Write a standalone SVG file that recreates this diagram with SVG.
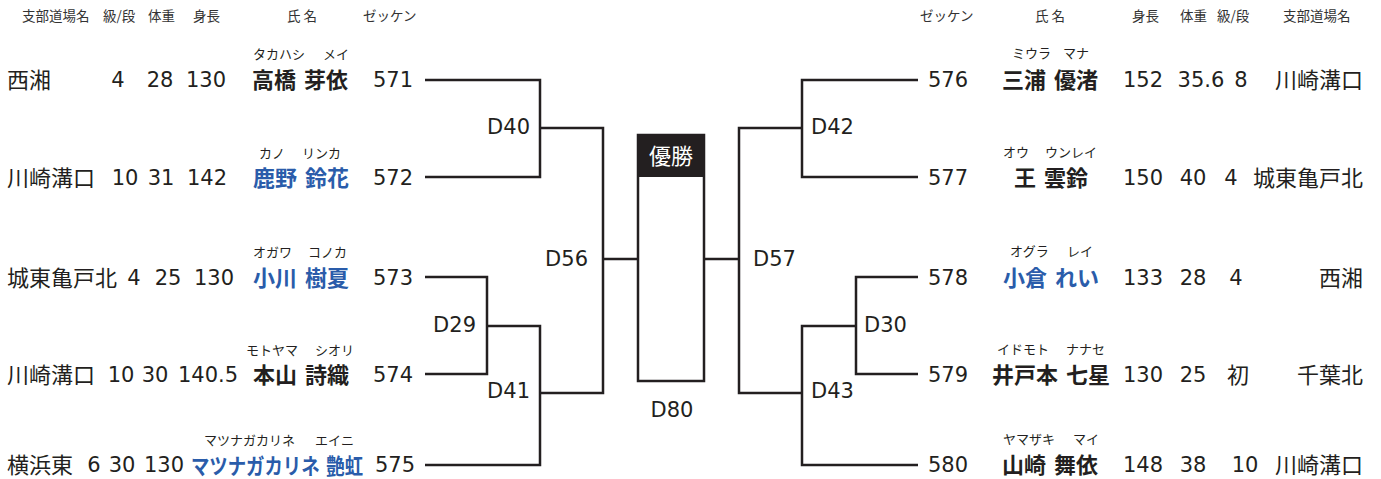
<svg xmlns="http://www.w3.org/2000/svg" width="1381" height="479" viewBox="0 0 1381 479">
<style>
.hd{font-family:"Noto Sans CJK JP",sans-serif;font-size:13.5px;fill:#333333}
.cl{font-family:"Noto Sans CJK JP",sans-serif;font-size:22px;fill:#231f20}
.num{font-family:"DejaVu Sans",sans-serif;font-size:21px;fill:#231f20;text-anchor:middle}
.nm{font-family:"Noto Sans CJK JP",sans-serif;font-size:22px;font-weight:bold;fill:#231f20;text-anchor:middle;word-spacing:3px}
.st{text-anchor:start}
.bl{fill:#2a5caa}
.fu{font-family:"Noto Sans CJK JP",sans-serif;font-size:13px;fill:#231f20}
.lb{font-family:"DejaVu Sans",sans-serif;font-size:21px;fill:#231f20}
.ln{fill:none;stroke:#231f20;stroke-width:2.5;stroke-linejoin:miter}
</style>
<g id="headers">
<text class="hd" x="22" y="21">支部道場名</text>
<text class="hd" x="103" y="21">級/段</text>
<text class="hd" x="148" y="21">体重</text>
<text class="hd" x="193" y="21">身長</text>
<text class="hd" x="287" y="21">氏 名</text>
<text class="hd" x="363" y="21">ゼッケン</text>
<text class="hd" x="920" y="21">ゼッケン</text>
<text class="hd" x="1035" y="21">氏 名</text>
<text class="hd" x="1132" y="21">身長</text>
<text class="hd" x="1180" y="21">体重</text>
<text class="hd" x="1217" y="21">級/段</text>
<text class="hd" x="1283" y="21">支部道場名</text>
</g>
<g id="connectors">
<path class="ln" d="M425,80 H540 V177 H425"/>
<path class="ln" d="M540,128 H603 V393 H540"/>
<path class="ln" d="M603,259 H638"/>
<path class="ln" d="M425,277 H487 V374 H425"/>
<path class="ln" d="M487,326 H540 V465 H425"/>
<path class="ln" d="M704,259 H739"/>
<path class="ln" d="M802,128 H739 V393 H802"/>
<path class="ln" d="M918,80 H802 V177 H918"/>
<path class="ln" d="M918,277 H856 V374 H918"/>
<path class="ln" d="M856,326 H802 V465 H918"/>
</g>
<g id="final">
<rect x="638" y="135" width="66" height="246" fill="#ffffff" stroke="#231f20" stroke-width="2.5"/>
<rect x="638" y="135" width="66" height="42" fill="#231f20"/>
<text x="671" y="164" font-family="Noto Sans CJK JP, sans-serif" font-size="22" fill="#ffffff" text-anchor="middle">優勝</text>
<text class="lb" x="672" y="417" text-anchor="middle">D80</text>
</g>
<g id="match-labels">
<text class="lb" x="530" y="134" text-anchor="end">D40</text>
<text class="lb" x="588" y="266" text-anchor="end">D56</text>
<text class="lb" x="476" y="332" text-anchor="end">D29</text>
<text class="lb" x="530" y="398" text-anchor="end">D41</text>
<text class="lb" x="811" y="134">D42</text>
<text class="lb" x="753" y="266">D57</text>
<text class="lb" x="864" y="332">D30</text>
<text class="lb" x="811" y="398">D43</text>
</g>
<g id="p571">
<text class="cl" x="7" y="88">西湘</text>
<text class="num" x="118" y="87">4</text>
<text class="num" x="160" y="87">28</text>
<text class="num" x="206" y="87">130</text>
<text class="fu" y="59"><tspan x="253">タカハシ</tspan><tspan x="323">メイ</tspan></text>
<text class="nm" x="300" y="88">高橋 芽依</text>
<text class="num" x="393" y="87">571</text>
</g>
<g id="p572">
<text class="cl" x="7" y="186">川崎溝口</text>
<text class="num" x="125" y="185">10</text>
<text class="num" x="161" y="185">31</text>
<text class="num" x="207" y="185">142</text>
<text class="fu" y="158"><tspan x="259">カノ</tspan><tspan x="302">リンカ</tspan></text>
<text class="nm bl" x="301" y="186">鹿野 鈴花</text>
<text class="num" x="393" y="185">572</text>
</g>
<g id="p573">
<text class="cl" x="7" y="286">城東亀戸北</text>
<text class="num" x="134" y="285">4</text>
<text class="num" x="168" y="285">25</text>
<text class="num" x="214" y="285">130</text>
<text class="fu" y="257"><tspan x="253">オガワ</tspan><tspan x="308">コノカ</tspan></text>
<text class="nm bl" x="301" y="286">小川 樹夏</text>
<text class="num" x="393" y="285">573</text>
</g>
<g id="p574">
<text class="cl" x="7" y="383">川崎溝口</text>
<text class="num" x="121" y="382">10</text>
<text class="num" x="155" y="382">30</text>
<text class="num" x="208" y="382">140.5</text>
<text class="fu" y="355"><tspan x="246">モトヤマ</tspan><tspan x="315">シオリ</tspan></text>
<text class="nm" x="301" y="383">本山 詩織</text>
<text class="num" x="393" y="382">574</text>
</g>
<g id="p575">
<text class="cl" x="7" y="473">横浜東</text>
<text class="num" x="94" y="472">6</text>
<text class="num" x="122" y="472">30</text>
<text class="num" x="164" y="472">130</text>
<text class="fu" y="445"><tspan x="204">マツナガカリネ</tspan><tspan x="315">エイニ</tspan></text>
<text class="nm bl st" x="191" y="474" textLength="172" lengthAdjust="spacingAndGlyphs">マツナガカリネ 艶虹</text>
<text class="num" x="395" y="472">575</text>
</g>
<g id="p576">
<text class="num" x="948" y="87">576</text>
<text class="fu" y="58"><tspan x="1012">ミウラ</tspan><tspan x="1063">マナ</tspan></text>
<text class="nm" x="1050" y="88">三浦 優渚</text>
<text class="num" x="1143" y="87">152</text>
<text class="num" x="1201" y="87">35.6</text>
<text class="num" x="1241" y="87">8</text>
<text class="cl" x="1363" y="88" text-anchor="end">川崎溝口</text>
</g>
<g id="p577">
<text class="num" x="948" y="185">577</text>
<text class="fu" y="157"><tspan x="1003">オウ</tspan><tspan x="1045">ウンレイ</tspan></text>
<text class="nm" x="1051" y="186">王 雲鈴</text>
<text class="num" x="1143" y="185">150</text>
<text class="num" x="1193" y="185">40</text>
<text class="num" x="1231" y="185">4</text>
<text class="cl" x="1363" y="186" text-anchor="end">城東亀戸北</text>
</g>
<g id="p578">
<text class="num" x="948" y="285">578</text>
<text class="fu" y="256"><tspan x="1010">オグラ</tspan><tspan x="1067">レイ</tspan></text>
<text class="nm bl" x="1051" y="286">小倉 れい</text>
<text class="num" x="1143" y="285">133</text>
<text class="num" x="1193" y="285">28</text>
<text class="num" x="1236" y="285">4</text>
<text class="cl" x="1363" y="286" text-anchor="end">西湘</text>
</g>
<g id="p579">
<text class="num" x="948" y="382">579</text>
<text class="fu" y="354"><tspan x="997">イドモト</tspan><tspan x="1066">ナナセ</tspan></text>
<text class="nm" x="1051" y="383">井戸本 七星</text>
<text class="num" x="1143" y="382">130</text>
<text class="num" x="1193" y="382">25</text>
<text class="cl" x="1238" y="383" text-anchor="middle">初</text>
<text class="cl" x="1363" y="383" text-anchor="end">千葉北</text>
</g>
<g id="p580">
<text class="num" x="948" y="472">580</text>
<text class="fu" y="444"><tspan x="1003">ヤマザキ</tspan><tspan x="1073">マイ</tspan></text>
<text class="nm" x="1050" y="473">山崎 舞依</text>
<text class="num" x="1143" y="472">148</text>
<text class="num" x="1193" y="472">38</text>
<text class="num" x="1245" y="472">10</text>
<text class="cl" x="1363" y="473" text-anchor="end">川崎溝口</text>
</g>
</svg>
